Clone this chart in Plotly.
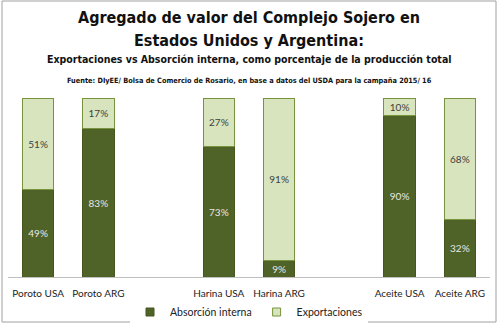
import plotly.graph_objects as go

categories = ["Poroto USA", "Poroto ARG", "Harina USA", "Harina ARG", "Aceite USA", "Aceite ARG"]
axis_order = ["Poroto USA", "Poroto ARG", " ", "Harina USA", "Harina ARG", "  ", "Aceite USA", "Aceite ARG"]
absorcion = [49, 83, 73, 9, 90, 32]
exportaciones = [51, 17, 27, 91, 10, 68]
series_names = ["Absorción interna", "Exportaciones"]

DARK = "#4F6228"
LIGHT = "#D7E4BD"
EDGE = "#77933C"
FONT = "Lato"
NARROW = "DejaVu Sans Condensed"

fig = go.Figure()
fig.add_trace(go.Bar(
    x=categories, y=absorcion, name=series_names[0], showlegend=False,
    marker=dict(color=DARK, line=dict(color="#45561F", width=1)),
    text=[f"{v}%" for v in absorcion], textposition="inside", insidetextanchor="middle",
    textangle=0, textfont=dict(color="#E8E8E8", size=10, family=FONT), constraintext="none",
))
fig.add_trace(go.Bar(
    x=categories, y=exportaciones, name=series_names[1], showlegend=False,
    marker=dict(color=LIGHT, line=dict(color=EDGE, width=1)),
    text=[f"{v}%" for v in exportaciones], textposition="inside", insidetextanchor="middle",
    textangle=0, textfont=dict(color="#404040", size=10, family=FONT), constraintext="none",
))
# legend entries with small square keys
fig.add_trace(go.Scatter(x=[None], y=[None], mode="markers", name=series_names[0],
                         marker=dict(symbol="square", size=8, color=DARK, line=dict(color="#45561F", width=1))))
fig.add_trace(go.Scatter(x=[None], y=[None], mode="markers", name=series_names[1],
                         marker=dict(symbol="square", size=8, color=LIGHT, line=dict(color=EDGE, width=1))))

L, R, T, B = 8, 9, 98, 49
W, H = 499, 326
pw, ph = W - L - R, H - T - B

def px(x):
    return (x - L) / pw

def py(y):
    return (H - B - y) / ph

fig.update_layout(
    width=W, height=H, barmode="stack", bargap=0.48,
    margin=dict(l=L, r=R, t=T, b=B, autoexpand=False),
    paper_bgcolor="white", plot_bgcolor="white",
    font=dict(family=FONT, size=10, color="#222222"),
    showlegend=True,
    legend=dict(orientation="h", x=0.5, xanchor="center", yref="container",
                y=(H - 312) / H, yanchor="middle",
                font=dict(size=10.5, family=FONT, color="#222222"), traceorder="normal",
                itemwidth=30),
    xaxis=dict(type="category", categoryorder="array", categoryarray=axis_order,
               range=[-0.5, 7.5], showline=True, linecolor="#BFBFBF", linewidth=1,
               ticks="", ticklabelstandoff=7, automargin=False,
               tickfont=dict(size=10, family=FONT, color="#222222"), fixedrange=True),
    yaxis=dict(range=[0, 100], showticklabels=False, showgrid=False, zeroline=False,
               automargin=False, fixedrange=True),
)

annotations = [
    dict(text="<b>Agregado de valor del Complejo Sojero en</b>", x=0.5, y=py(17), font=dict(size=16, family=NARROW, color="#111111")),
    dict(text="<b>Estados Unidos y Argentina:</b>", x=0.5, y=py(40), font=dict(size=16, family=NARROW, color="#111111")),
    dict(text="<b>Exportaciones vs Absorción interna, como porcentaje de la producción total</b>", x=0.5, y=py(59), font=dict(size=10.5, family=NARROW, color="#111111")),
    dict(text="<b>Fuente: DIyEE/ Bolsa de Comercio de Rosario, en base a datos del USDA para la campaña 2015/ 16</b>", x=0.5, y=py(80), font=dict(size=7.3, family=NARROW, color="#111111")),
]
for a in annotations:
    a.update(xref="paper", yref="paper", xanchor="center", yanchor="middle", showarrow=False)
    fig.add_annotation(**a)

fig.add_shape(type="rect", xref="paper", yref="paper",
              x0=px(2), x1=px(496), y0=py(322), y1=py(1),
              line=dict(color="#A0A0A0", width=1), fillcolor="rgba(0,0,0,0)", layer="below")

fig.write_html("out.html")
